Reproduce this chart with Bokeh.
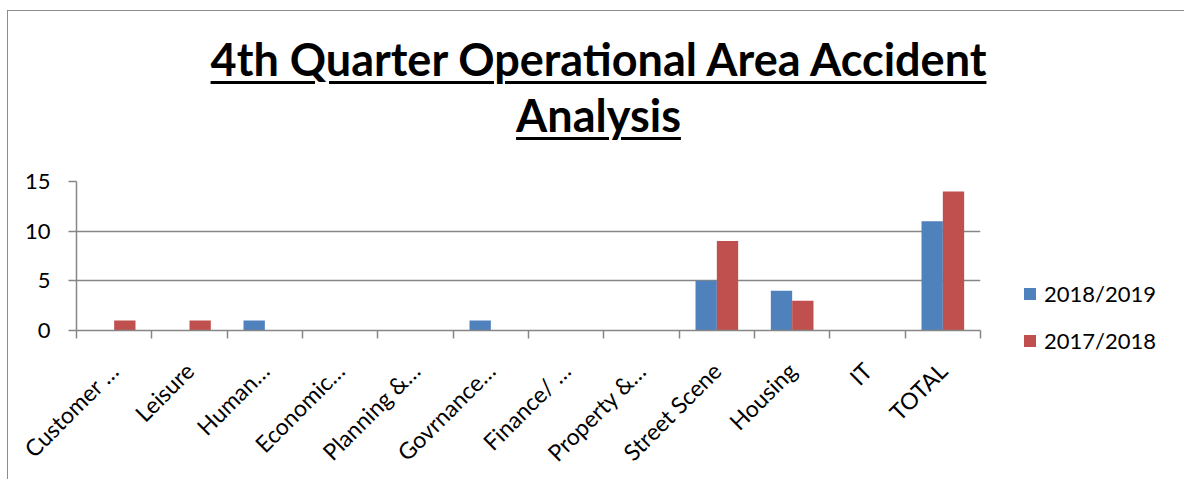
from bokeh.plotting import figure
from bokeh.models import Div, Range1d, FixedTicker, Legend, LegendItem, ColumnDataSource
from bokeh.layouts import column
from bokeh.transform import dodge
from bokeh.embed import file_html
from bokeh.resources import INLINE

# ---- data ----
categories = ["Customer …", "Leisure", "Human…", "Economic…", "Planning &…", "Govrnance…",
              "Finance/ …", "Property &…", "Street Scene", "Housing", "IT", "TOTAL"]
series_names = ["2018/2019", "2017/2018"]
values_2018_2019 = [0, 0, 1, 0, 0, 1, 0, 0, 5, 4, 0, 11]
values_2017_2018 = [1, 1, 0, 0, 0, 0, 0, 0, 9, 3, 0, 14]
y_ticks = [0, 5, 10, 15]
title_lines = ["4th Quarter Operational Area Accident", "Analysis"]

BLUE = "#4F81BD"
RED = "#C0504D"
GRAY = "#868686"
FONT = "Lato"

n = len(categories)
xs = list(range(n))
src = ColumnDataSource(dict(x=xs, a=values_2018_2019, b=values_2017_2018))

p = figure(frame_width=904, frame_height=149,
           x_range=Range1d(-0.5, n - 0.5), y_range=Range1d(0, 15),
           output_backend="svg", toolbar_location=None,
           min_border_left=68, min_border_right=196, min_border_top=14, min_border_bottom=143)
p.outline_line_color = None
p.xgrid.grid_line_color = None
p.ygrid.grid_line_color = GRAY
p.ygrid.grid_line_width = 1.5

bw = 0.283
r1 = p.vbar(x=dodge("x", -bw / 2, range=p.x_range), top="a", width=bw, source=src,
            fill_color=BLUE, line_color=None)
r2 = p.vbar(x=dodge("x", bw / 2, range=p.x_range), top="b", width=bw, source=src,
            fill_color=RED, line_color=None)

# y axis
ya = p.yaxis[0]
ya.ticker = FixedTicker(ticks=y_ticks)
ya.axis_line_color = GRAY
ya.axis_line_width = 1.5
ya.major_tick_line_color = GRAY
ya.major_tick_line_width = 1.5
ya.major_tick_out = 8
ya.major_tick_in = 0
ya.minor_tick_line_color = None
ya.major_label_text_font = FONT
ya.major_label_text_font_size = "22px"
ya.major_label_text_color = "black"
ya.major_label_standoff = 18

# x axis
xa = p.xaxis[0]
xa.ticker = FixedTicker(ticks=xs, minor_ticks=[i - 0.5 for i in range(n + 1)])
xa.major_label_overrides = {i: c for i, c in enumerate(categories)}
xa.axis_line_color = GRAY
xa.axis_line_width = 1.5
xa.major_tick_line_color = None
xa.major_tick_out = 8
xa.major_tick_in = 0
xa.minor_tick_line_color = GRAY
xa.minor_tick_line_width = 1.5
xa.minor_tick_out = 8
xa.minor_tick_in = 0
xa.major_label_orientation = 0.785398
xa.major_label_text_font = FONT
xa.major_label_text_font_size = "23px"
xa.major_label_text_color = "black"
xa.major_label_standoff = 28

legend = Legend(items=[LegendItem(label=series_names[0], renderers=[r1]),
                       LegendItem(label=series_names[1], renderers=[r2])],
                location=(42, -24), orientation="vertical",
                glyph_width=15, glyph_height=15, label_height=25, spacing=20,
                label_standoff=7, padding=0, margin=0,
                border_line_color=None, background_fill_alpha=0,
                label_text_font=FONT, label_text_font_size="22px", label_text_color="black")
p.add_layout(legend, "right")

title_html = ('<div style="font-family:Lato, sans-serif; font-weight:bold; font-size:45px; '
              'line-height:56px; text-decoration:underline; text-decoration-thickness:3px; '
              'text-underline-offset:5px; text-align:center; color:black; '
              'padding-top:20px; position:relative; left:7px;">'
              + "<br>".join(title_lines) + '</div>')
div = Div(text=title_html, width=1167, height=156, margin=0,
          styles={"text-align": "center"})

layout = column(div, p, margin=(10, 0, 0, 7),
                styles={"border-top": "1px solid #8c8c8c",
                        "border-left": "1px solid #8c8c8c"})

open("out.html", "w").write(file_html(layout, INLINE))
